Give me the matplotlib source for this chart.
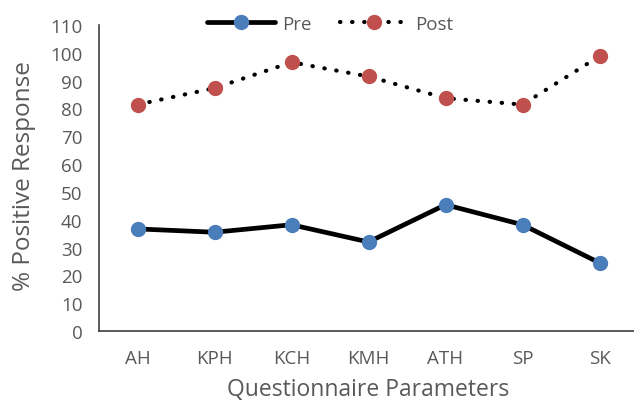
import matplotlib
matplotlib.use("Agg")
import matplotlib.pyplot as plt

categories = ["AH", "KPH", "KCH", "KMH", "ATH", "SP", "SK"]
pre_values = [36.7, 35.5, 38.2, 32.0, 45.4, 38.2, 24.5]
post_values = [81.4, 87.3, 96.6, 91.5, 83.7, 81.4, 98.8]
y_ticks = list(range(0, 111, 10))

TEXT = "#595959"
plt.rcParams['font.family'] = ['Open Sans', 'DejaVu Sans']

fig = plt.figure(figsize=(6.34, 4.02), dpi=100)
ax = fig.add_axes([99 / 634, 70 / 402, 539 / 634, 306 / 402])

x = list(range(len(categories)))
ax.plot(x, pre_values, color="black", lw=3.4, marker="o", ms=10,
        mfc="#4A7EBB", mec="#4A7EBB", label="Pre", solid_capstyle="round")
ax.plot(x, post_values, color="black", lw=3.0, ls=(0, (0.1, 2.8)),
        dash_capstyle="round", marker="o", ms=10,
        mfc="#C0504D", mec="#C0504D", label="Post")

ax.set_xlim(-0.5, len(categories) - 0.5)
ax.set_ylim(0, 110)
ax.set_yticks(y_ticks)
ax.set_xticks(x)
ax.set_xticklabels(categories)
ax.tick_params(axis="both", length=0, labelsize=13.5, colors=TEXT)
ax.tick_params(axis="x", pad=13)
ax.tick_params(axis="y", pad=12)

for s in ["top", "right"]:
    ax.spines[s].set_visible(False)
ax.spines["left"].set_color("#404040")
ax.spines["bottom"].set_color("#404040")
ax.spines["left"].set_linewidth(1.2)
ax.spines["bottom"].set_linewidth(1.2)

ax.set_xlabel("Questionnaire Parameters", fontsize=16.5, color=TEXT)
ax.set_ylabel("% Positive Response", fontsize=17.5, color=TEXT)
ax.xaxis.set_label_coords(0.5, -0.19)
ax.yaxis.set_label_coords(-0.139, 0.51)
ax.xaxis.label.set_va("center")
ax.yaxis.label.set_va("center")

leg = fig.legend(loc="center", bbox_to_anchor=(330 / 634, 1 - 25 / 402), ncol=2,
                 frameon=False, fontsize=13.5, handlelength=3.6, columnspacing=1.5,
                 handletextpad=0.4)
for t in leg.get_texts():
    t.set_color(TEXT)

fig.savefig("out.png", dpi=100)
